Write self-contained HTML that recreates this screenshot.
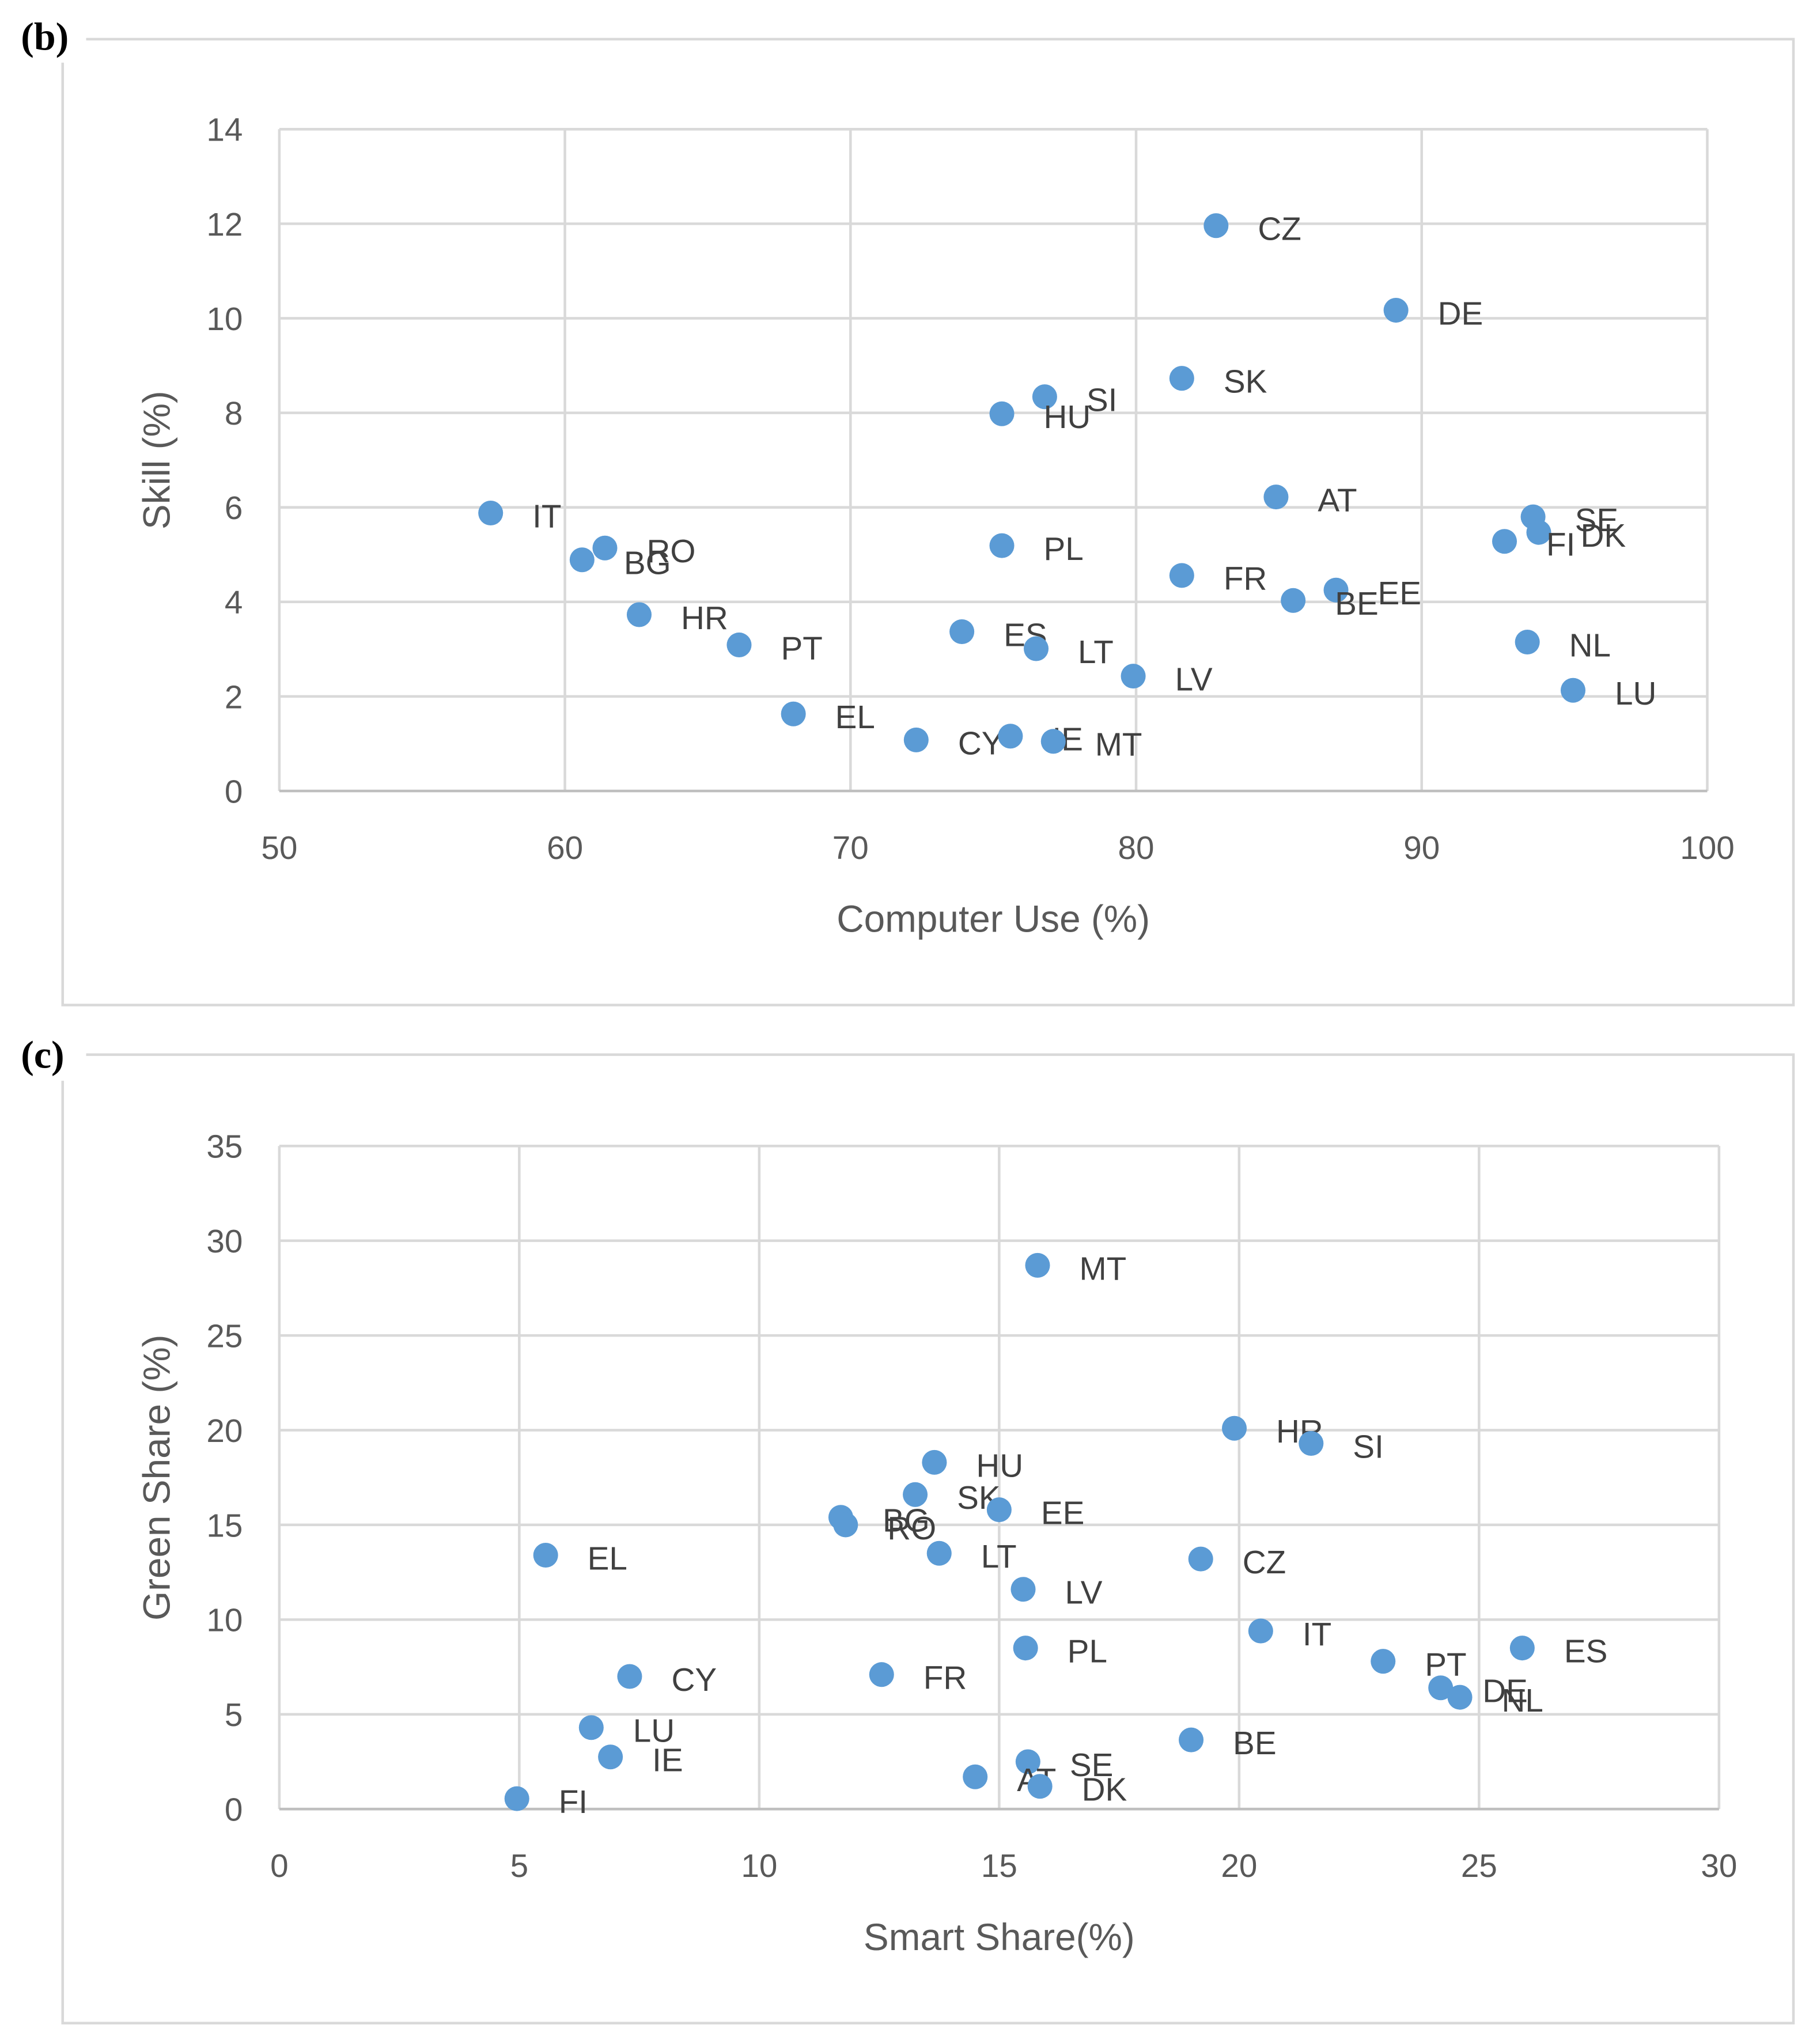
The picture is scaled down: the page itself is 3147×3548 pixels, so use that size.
<!DOCTYPE html>
<html><head><meta charset="utf-8"><style>
html,body{margin:0;padding:0;background:#fff;}
svg{display:block;font-family:"Liberation Sans","DejaVu Sans",sans-serif;}
</style></head><body>
<svg id="svg" width="3147" height="3548" viewBox="0 0 1389 1566" preserveAspectRatio="none" xmlns="http://www.w3.org/2000/svg">
<rect x="48" y="30" width="1326" height="740" fill="none" stroke="#d9d9d9" stroke-width="2"/>
<rect x="48" y="808" width="1326" height="742" fill="none" stroke="#d9d9d9" stroke-width="2"/>
<rect x="12" y="8" width="54" height="40" fill="#fff"/>
<rect x="12" y="788" width="54" height="40" fill="#fff"/>
<text x="16" y="38" font-family="Liberation Serif,serif" font-size="30" font-weight="bold" fill="#000">(b)</text>
<text x="16" y="818" font-family="Liberation Serif,serif" font-size="30" font-weight="bold" fill="#000">(c)</text>
<g id="gb"></g>
<g id="gc"></g>
</svg>
<script>
// Chart (b)
const bCountries = ["CZ","DE","SK","SI","HU","AT","IT","SE","DK","FI","RO","BG","PL","FR","EE","BE","HR","ES","PT","LT","NL","LV","LU","EL","CY","IE","MT"];
const bComputerUse = [82.8,89.1,81.6,76.8,75.3,84.9,57.4,93.9,94.1,92.9,61.4,60.6,75.3,81.6,87.0,85.5,62.6,73.9,66.1,76.5,93.7,79.9,95.3,68.0,72.3,75.6,77.1];
const bSkill = [11.96,10.17,8.73,8.34,7.98,6.22,5.88,5.80,5.47,5.28,5.14,4.89,5.19,4.56,4.25,4.03,3.73,3.37,3.09,3.01,3.15,2.43,2.13,1.63,1.08,1.16,1.05];
const bXTicks = [50,60,70,80,90,100];
const bYTicks = [0,2,4,6,8,10,12,14];
// Chart (c)
const cCountries = ["MT","HR","SI","HU","SK","EE","BG","RO","EL","LT","CZ","LV","IT","ES","PL","PT","FR","CY","DE","NL","BE","LU","IE","SE","AT","DK","FI"];
const cSmartShare = [15.8,19.9,21.5,13.65,13.25,15.0,11.7,11.8,5.55,13.75,19.2,15.5,20.45,25.9,15.55,23.0,12.55,7.3,24.2,24.6,19.0,6.5,6.9,15.6,14.5,15.85,4.95];
const cGreenShare = [28.7,20.1,19.3,18.3,16.6,15.8,15.4,15.0,13.4,13.5,13.2,11.6,9.4,8.5,8.5,7.8,7.1,7.0,6.4,5.9,3.65,4.3,2.75,2.5,1.7,1.2,0.55];
const cXTicks = [0,5,10,15,20,25,30];
const cYTicks = [0,5,10,15,20,25,30,35];

const NS="http://www.w3.org/2000/svg";
function mk(parent,tag,attrs,text){const e=document.createElementNS(NS,tag);for(const k in attrs)e.setAttribute(k,attrs[k]);if(text!==undefined)e.textContent=text;parent.appendChild(e);return e;}

function draw(g,cfg){
  const sx=v=>cfg.x0+(v-cfg.xmin)/(cfg.xmax-cfg.xmin)*(cfg.x1-cfg.x0);
  const sy=v=>cfg.y0-(v-cfg.ymin)/(cfg.ymax-cfg.ymin)*(cfg.y0-cfg.y1);
  cfg.xt.forEach(t=>{
    const l=mk(g,"line",{x1:sx(t),x2:sx(t),y1:cfg.y1,y2:cfg.y0,stroke:"#d9d9d9","stroke-width":2});
    
    
    const tx=mk(g,"text",{x:sx(t),y:cfg.y0+52,"text-anchor":"middle","font-size":25,fill:"#595959"},String(t));
    
    
  });
  cfg.yt.forEach(t=>{
    const l=mk(g,"line",{x1:cfg.x0,x2:cfg.x1,y1:sy(t),y2:sy(t),stroke:t===cfg.ymin?"#bfbfbf":"#d9d9d9","stroke-width":2});
    
    
    const tx=mk(g,"text",{x:cfg.x0-28,y:sy(t)+9,"text-anchor":"end","font-size":25,fill:"#595959"},String(t));
    
    
  });
  const xt=mk(g,"text",{x:(cfg.x0+cfg.x1)/2,y:cfg.y0+108,"text-anchor":"middle","font-size":29,fill:"#595959"},cfg.xTitle);
  
  
  const yc=(cfg.y0+cfg.y1)/2;
  const yt=mk(g,"text",{x:130,y:yc,"text-anchor":"middle","font-size":29,fill:"#595959",transform:`rotate(-90 130 ${yc})`},cfg.yTitle);
  
  
  cfg.names.forEach((n,i)=>{
    const cx=sx(cfg.xs[i]),cy=sy(cfg.ys[i]);
    const c=mk(g,"circle",{cx:cx,cy:cy,r:9.5,fill:"#5b9bd5"});
    
    
    const t=mk(g,"text",{x:cx+32,y:cy+11,"font-size":25,fill:"#404040"},n);
    
    
  });
}
draw(document.getElementById('gb'),{x0:214,x1:1308,y0:606,y1:99,xmin:50,xmax:100,ymin:0,ymax:14,xt:bXTicks,yt:bYTicks,names:bCountries,xs:bComputerUse,ys:bSkill,xTitle:"Computer Use (%)",yTitle:"Skill (%)"});
draw(document.getElementById('gc'),{x0:214,x1:1317,y0:1386,y1:878,xmin:0,xmax:30,ymin:0,ymax:35,xt:cXTicks,yt:cYTicks,names:cCountries,xs:cSmartShare,ys:cGreenShare,xTitle:"Smart Share(%)",yTitle:"Green Share (%)"});
</script>
</body></html>
